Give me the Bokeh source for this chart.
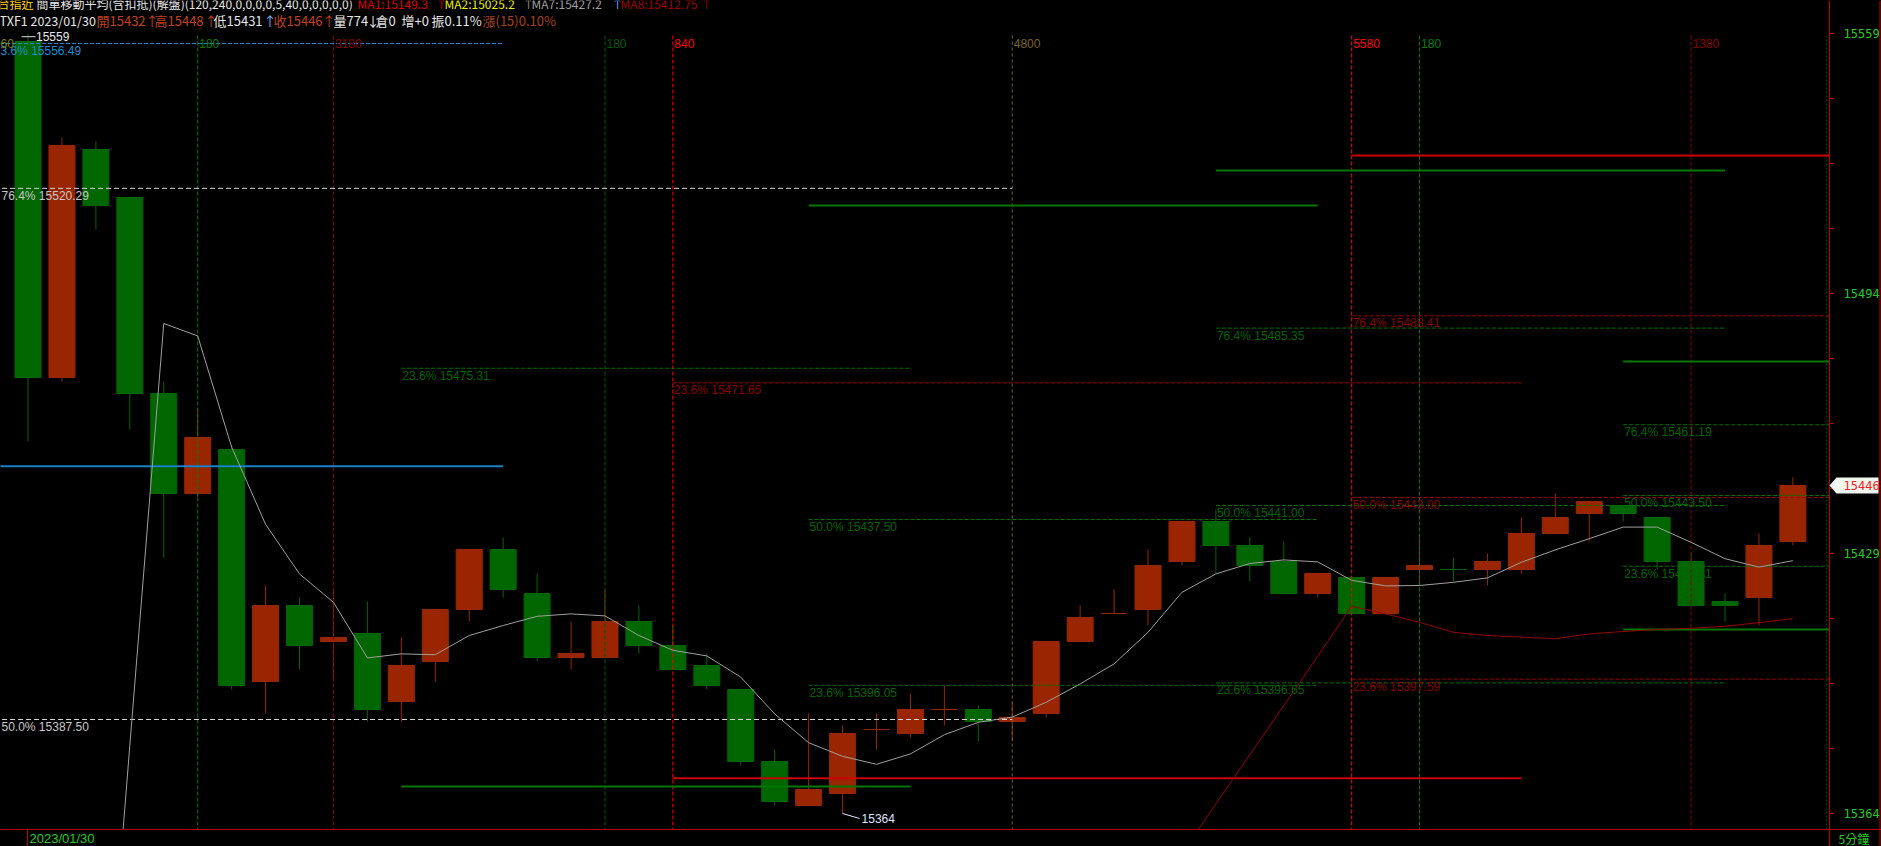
from bokeh.plotting import figure
from bokeh.models import Range1d, GlobalInlineStyleSheet
from bokeh.core.properties import value
from bokeh.embed import file_html
from bokeh.resources import INLINE

# ---------------- data ----------------
opens = [15557, 15473, 15530, 15518, 15469, 15444, 15455, 15397, 15416, 15407,
         15409, 15392, 15402, 15415, 15430, 15419, 15403, 15403, 15412, 15406,
         15401, 15395, 15377, 15366, 15369, 15385, 15384, 15390, 15390, 15387,
         15389, 15407, 15414, 15415, 15427, 15437, 15431, 15427, 15419, 15423,
         15414, 15425, 15425, 15425, 15425, 15434, 15439, 15441, 15438, 15427,
         15417, 15418, 15432]
highs = [15559, 15533, 15532, 15518, 15472, 15465, 15456, 15421, 15418, 15420,
         15417, 15408, 15415, 15430, 15433, 15424, 15412, 15420, 15416, 15411,
         15404, 15395, 15380, 15389, 15386, 15389, 15394, 15396, 15391, 15392,
         15407, 15416, 15420, 15430, 15437, 15440, 15433, 15432, 15424, 15423,
         15423, 15433, 15428, 15429, 15438, 15444, 15442, 15441, 15438, 15429,
         15419, 15434, 15448]
lows = [15457, 15472, 15510, 15460, 15428, 15443, 15395, 15389, 15400, 15398,
        15387, 15387, 15397, 15412, 15418, 15402, 15400, 15403, 15404, 15400,
        15395, 15376, 15366, 15366, 15364, 15380, 15383, 15386, 15382, 15382,
        15388, 15407, 15414, 15411, 15426, 15424, 15422, 15419, 15418, 15414,
        15414, 15421, 15422, 15421, 15424, 15434, 15432, 15437, 15425, 15416,
        15412, 15411, 15431]
closes = [15473, 15531, 15516, 15469, 15444, 15458, 15396, 15416, 15406, 15408,
          15390, 15401, 15415, 15430, 15420, 15403, 15404, 15412, 15406, 15400,
          15396, 15377, 15367, 15370, 15384, 15385, 15390, 15390, 15387, 15388,
          15407, 15413, 15414, 15426, 15437, 15431, 15426, 15419, 15424, 15414,
          15423, 15426, 15425, 15427, 15434, 15438, 15442, 15439, 15427, 15416,
          15416, 15431, 15446]

ma7 = [None, None, 15275, 15381, 15486.5, 15483.4, 15455.6, 15436.3, 15423.9, 15416.8,
       15402.9, 15403.9, 15403.7, 15408.5, 15411.0, 15413.3, 15413.9, 15413.4, 15408.5, 15404.8,
       15403.4, 15398.1, 15388.9, 15381.7, 15378.3, 15376.3, 15378.9, 15383.7, 15386.8, 15388.1,
       15391.8, 15396.4, 15401.4, 15409.3, 15419.3, 15423.9, 15426.5, 15427.4, 15426.9, 15422.3,
       15420.9, 15421.0, 15421.8, 15422.9, 15426.8, 15429.9, 15432.7, 15435.6, 15435.6, 15431.8,
       15427.7, 15425.6, 15427.2]
ma8 = [None] * 34 + [15354.1, 15366.4, 15378.7, 15391.0, 15403.3, 15415.8,
                     15413.9, 15411.8, 15409.3, 15408.5, 15408.1, 15407.7, 15408.9,
                     15409.5, 15410.0, 15410.3, 15410.8, 15411.7, 15412.75]

# Fibonacci retracement sets: bar where each starts / ends (None = to the price axis)
fib_sets = ["A", "B", "C", "D", "E", "F", "G", "H"]
fib_start = [-1, -1, 11, 19, 23, 35, 39, 47]
fib_end = [14, 29, 26, 44, 38, 50, None, None]
# retracement levels
lvl_set = ["A", "B", "B", "C", "D", "E", "E", "F", "F", "F", "G", "G", "G", "H", "H", "H"]
lvl_pct = [23.6, 76.4, 50.0, 23.6, 23.6, 50.0, 23.6, 76.4, 50.0, 23.6, 76.4, 50.0, 23.6, 76.4, 50.0, 23.6]
lvl_price = [15556.49, 15520.29, 15387.50, 15475.31, 15471.65, 15437.50, 15396.05,
             15485.35, 15441.00, 15396.65, 15488.41, 15443.00, 15397.59,
             15461.19, 15443.50, 15425.81]
# solid base lines of the sets
base_set = ["A", "C", "D", "E", "F", "G", "H", "H"]
base_price = [15450.8, 15370.75, 15372.8, 15516.0, 15524.75, 15528.5, 15477.0, 15410.0]

# vertical cycle markers
vm_bar = [5, 9, 17, 19, 29, 39, 41, 49, 53]
vm_label = ["180", "3180", "180", "840", "4800", "5580", "180", "1380", ""]

axis_ticks = [15364, 15429, 15494, 15559]
last_price = 15446
high_mark = 15559
low_mark = 15364
date_text = "2023/01/30"
period_text = "5分鐘"

header1 = [("台指近", "y"), ("簡單移動平均(含扣抵)(解盤)(120,240,0,0,0,0,5,40,0,0,0,0,0)", "w"),
           ("MA1:15149.3", "r"), ("↑", "r"), ("MA2:15025.2", "yy"), ("↑", "g"),
           ("MA7:15427.2", "g"), ("↑", "b"), ("MA8:15412.75", "dr"), ("↑", "dr")]
header2 = [("TXF1 2023/01/30", "w"), ("開15432", "o"), ("↑", "o"), ("高15448", "o"), ("↑", "o"),
           ("低15431", "w"), ("↑", "b"), ("收15446", "o"), ("↑", "o"), ("量774", "w"), ("↓", "w"),
           ("倉0", "w"), ("增+0", "w"), ("振0.11%", "w"), ("漲(15)0.10%", "o2")]

# ---------------- layout helpers ----------------
W, H = 1881, 846
CW, CH = 1829, 829          # price pane size in pixels
X0 = -0.8103
PXX = 1 / 33.94              # bar-index units per pixel
Y_TOP = 15567.25
PXY = 0.25                   # price units per pixel
X1 = X0 + W * PXX
Y_BOT = Y_TOP - H * PXY


def xd(px):
    return X0 + px * PXX


def yd(py):
    return Y_TOP - py * PXY


RED = "#992600"
GRN = "#006600"
AXR = "#c00000"
AXG = "#22cc22"
LS = value("Liberation Sans")
CJK = value("Noto Sans CJK TC")

p = figure(width=W, height=H, x_range=Range1d(X0, X1), y_range=Range1d(Y_BOT, Y_TOP),
           output_backend="svg", toolbar_location=None,
           x_axis_location=None, y_axis_location=None, min_border=0,
           background_fill_color="black", border_fill_color="black", outline_line_color=None)
p.grid.visible = False
p.stylesheets = [GlobalInlineStyleSheet(css="html,body{margin:0;padding:0;background:#000;overflow:hidden;}")]

# ---- candles ----
idx = list(range(len(opens)))
colors = []
for i, (o, c) in enumerate(zip(opens, closes)):
    if c > o:
        up = True
    elif c < o:
        up = False
    else:
        up = c >= (closes[i - 1] if i > 0 else c)
    colors.append(RED if up else GRN)
p.segment(x0=idx, y0=highs, x1=idx, y1=lows, line_color=colors, line_width=1)
p.vbar(x=idx, top=[max(o, c) for o, c in zip(opens, closes)],
       bottom=[min(o, c) for o, c in zip(opens, closes)],
       width=26 * PXX, fill_color=colors, line_color=colors, line_width=1)

# ---- vertical cycle lines ----
vm_colors = ["#008000", "#8b0000", "#005a00", "#ff0000", "#7a6420", "#ff0000", "#008000", "#8b0000", "#006000"]
vm_dash = ["4 2", "4 2", "4 2", "4 2", "3 3", "4 2", "4 2", "4 2", "2 2"]
for b, c, d in zip(vm_bar, vm_colors, vm_dash):
    p.segment(x0=b, y0=yd(35), x1=b, y1=Y_BOT, line_color=c, line_width=1, line_dash=d)

# ---- fib lines ----
set_dash_col = {"A": "#1a8fd6", "B": "#d8d8d8", "C": "#007000", "D": "#a00000",
                "E": "#007000", "F": "#007000", "G": "#a00000", "H": "#007000"}
set_text_col = {"A": "#1a8fd6", "B": "#c8c8c8", "C": "#006400", "D": "#8b0000",
                "E": "#006400", "F": "#006400", "G": "#8b0000", "H": "#006400"}
set_solid_col = {"A": "#1a80c8", "C": "#007800", "D": "#cc0000", "E": "#007800",
                 "F": "#007800", "G": "#cc0000", "H": "#007800"}
s_start = dict(zip(fib_sets, fib_start))
s_end = {s: (e if e is not None else xd(CW)) for s, e in zip(fib_sets, fib_end)}

for s, pr in zip(lvl_set, lvl_price):
    p.segment(x0=s_start[s], y0=pr, x1=s_end[s], y1=pr, line_color=set_dash_col[s],
              line_width=1, line_dash="4 2" if s != "B" else "5 3")
for s, pr in zip(base_set, base_price):
    p.segment(x0=s_start[s], y0=pr, x1=s_end[s], y1=pr, line_color=set_solid_col[s], line_width=2)

# ---- moving averages ----
m7x = [i for i, v in enumerate(ma7) if v is not None]
m7y = [v for v in ma7 if v is not None]
p.line(m7x, m7y, line_color="#a0a0a0", line_width=1)
m8x = [i for i, v in enumerate(ma8) if v is not None]
m8y = [v for v in ma8 if v is not None]
p.line(m8x, m8y, line_color="#990000", line_width=1)

# ---- high / low marks ----
ih = highs.index(high_mark)
p.segment(x0=ih - 6.5 * PXX, y0=high_mark - 0.8, x1=ih + 7.5 * PXX, y1=high_mark - 0.8,
          line_color="#e0e0e0", line_width=1)
p.text(x=[ih + 8 * PXX], y=[high_mark - 0.8], text=[str(high_mark)], text_color="#e8e8e8",
       text_font=LS, text_font_size=value("12px"), text_baseline="middle")
il = lows.index(low_mark)
p.segment(x0=il, y0=low_mark, x1=il + 17 * PXX, y1=low_mark - 5 * PXY, line_color="#e0e8ff", line_width=1)
p.text(x=[il + 19 * PXX], y=[low_mark - 4.5 * PXY], text=[str(low_mark)], text_color="#dce8ff",
       text_font=LS, text_font_size=value("12px"), text_baseline="middle")

# ---- fib / cycle labels (drawn over the candles) ----
for s, pc, pr in zip(lvl_set, lvl_pct, lvl_price):
    if s == "A":
        tx = xd(-6.7)
    elif s_start[s] < 0:
        tx = xd(1)
    else:
        tx = s_start[s] + 1 * PXX
    p.text(x=[tx], y=[pr - 7.5 * PXY], text=[f"{pc:.1f}% {pr:.2f}"], text_color=set_text_col[s],
           text_font=LS, text_font_size=value("12px"), text_baseline="middle")
for b, lab, c in zip(vm_bar, vm_label, vm_colors):
    if lab:
        p.text(x=[b + 1.5 * PXX], y=[yd(42.5)], text=[lab], text_color=c,
               text_font=LS, text_font_size=value("12px"), text_baseline="middle")
p.text(x=[xd(0)], y=[yd(42.5)], text=["60"], text_color="#808000",
       text_font=LS, text_font_size=value("12px"), text_baseline="middle")

# ---- mask outside the price pane ----
p.quad(left=[xd(CW)], right=[X1], bottom=[Y_BOT], top=[Y_TOP], fill_color="black", line_color=None)
p.quad(left=[X0], right=[X1], bottom=[Y_BOT], top=[yd(CH)], fill_color="black", line_color=None)

# ---- price axis (right) ----
p.segment(x0=xd(CW), y0=Y_TOP, x1=xd(CW), y1=Y_BOT, line_color=AXR, line_width=1)
p.segment(x0=xd(1879.5), y0=Y_TOP, x1=xd(1879.5), y1=Y_BOT, line_color=AXR, line_width=1)
p.segment(x0=X0, y0=yd(CH), x1=X1, y1=yd(CH), line_color=AXR, line_width=1)
step = (axis_ticks[1] - axis_ticks[0]) / 4
minor = [axis_ticks[0] + k * step for k in range(13)]
p.segment(x0=[xd(CW)] * len(minor), y0=minor, x1=[xd(CW + 4)] * len(minor), y1=minor,
          line_color=AXR, line_width=1)
p.text(x=[xd(1843)] * len(axis_ticks), y=axis_ticks, text=[str(t) for t in axis_ticks],
       text_color=AXG, text_font=value("DejaVu Sans Mono"), text_font_size=value("12px"),
       text_baseline="middle")
# last price tag
tag_xs = [xd(CW), xd(1836), xd(1878), xd(1878), xd(1836)]
tag_ys = [last_price, last_price + 8 * PXY, last_price + 8 * PXY, last_price - 8 * PXY, last_price - 8 * PXY]
p.patch(tag_xs, tag_ys, fill_color="#f0f8f0", line_color=None)
p.text(x=[xd(1843)], y=[last_price], text=[str(last_price)], text_color="#ff2020",
       text_font=value("DejaVu Sans Mono"), text_font_size=value("12px"), text_baseline="middle")

# ---- time axis (bottom) ----
p.segment(x0=xd(27), y0=yd(CH), x1=xd(27), y1=Y_BOT, line_color=AXR, line_width=1)
p.text(x=[xd(29)], y=[yd(837.5)], text=[date_text], text_color=AXG,
       text_font=LS, text_font_size=value("13px"), text_baseline="middle")
p.text(x=[xd(1838)], y=[yd(838)], text=[period_text], text_color=AXG,
       text_font=CJK, text_font_size=value("12px"), text_baseline="middle")

# ---- header ----
hcol = {"y": "#ffd700", "w": "#e6e6e6", "r": "#e00000", "yy": "#f0f000", "g": "#a0a0a0",
        "b": "#7fb0ff", "dr": "#a00000", "o": "#c4401a", "o2": "#a8401c"}
h1x = [-3, 36, 357, 435, 444, 522, 531, 611, 620, 700]
h2x = [-1, 96, 145, 154, 204, 213, 263, 273, 322, 333, 366, 375, 401, 431, 482]
for (t, k), px in zip(header1, h1x):
    p.text(x=[xd(px)], y=[yd(2.5)], text=[t], text_color=hcol[k],
           text_font=CJK, text_font_size=value("12px"), text_baseline="middle")
for (t, k), px in zip(header2, h2x):
    p.text(x=[xd(px)], y=[yd(20)], text=[t], text_color=hcol[k],
           text_font=CJK, text_font_size=value("13px" if px > 0 else "12.5px"),
           text_baseline="middle")

open("out.html", "w").write(file_html(p, INLINE))
